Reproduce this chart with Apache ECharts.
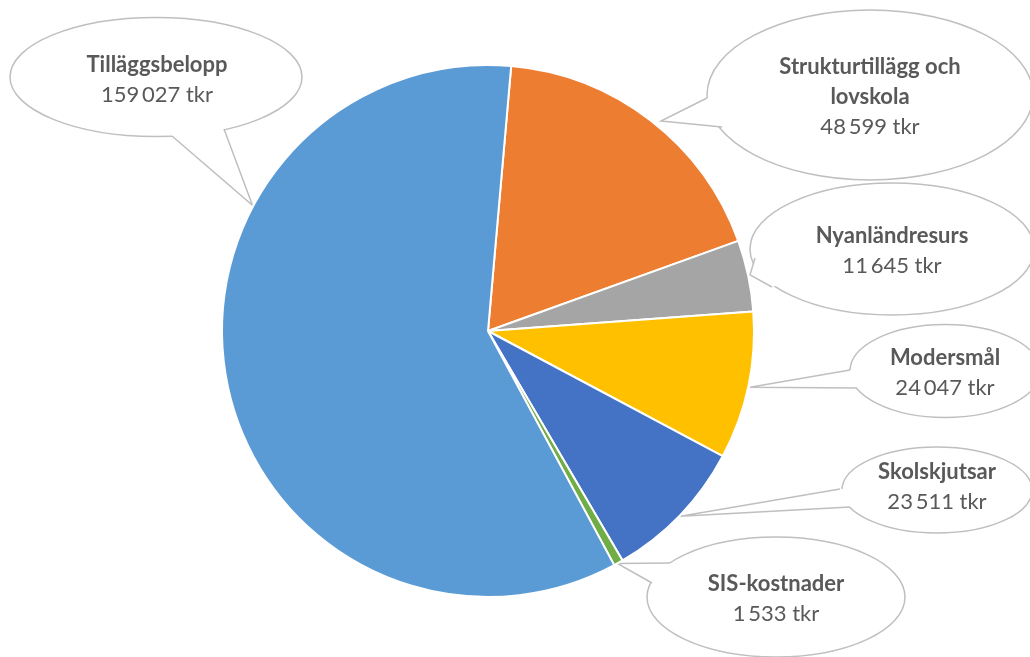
<!DOCTYPE html>
<html>
<head>
<meta charset="utf-8">
<script src="https://cdn.jsdelivr.net/npm/echarts@6/dist/echarts.min.js"></script>
<style>
html,body{margin:0;padding:0;background:#fff;}
#chart{width:1030px;height:657px;}
</style>
</head>
<body>
<div id="chart"></div>
<script>
// ---- data ----
const categories = ['Strukturtillägg och lovskola', 'Nyanländresurs', 'Modersmål', 'Skolskjutsar', 'SIS-kostnader', 'Tilläggsbelopp'];
const values = [48599, 11645, 24047, 23511, 1533, 159027];
const unit = 'tkr';

// ---- layout / style (not data) ----
const colors = ['#ED7D31', '#A5A5A5', '#FFC000', '#4472C4', '#70AD47', '#5B9BD5'];
const pieCenter = [488, 331];
const pieRadius = 266;
// callout bubbles: ellipse centre/size, text centre, wedge base points, tip angle (deg, math) and tip radius offset
const bubbles = [
  {cx: 870, cy: 95, w: 326, h: 170, tx: 870, ty: 97, b1: [707, 98], b2: [722, 127], ang: 50.5, dr: 6},
  {cx: 892, cy: 249, w: 284, h: 132, tx: 892, ty: 251, b1: [755, 258], b2: [772, 287], ang: 12.1, dr: 2},
  {cx: 945, cy: 371, w: 190, h: 93, tx: 945, ty: 373, b1: [850, 370], b2: [857, 388], ang: -12.1, dr: 2},
  {cx: 937, cy: 490, w: 190, h: 86, tx: 937, ty: 487, b1: [840, 489], b2: [850, 507], ang: -43.9, dr: 1},
  {cx: 776, cy: 597, w: 258, h: 120, tx: 776, ty: 599, b1: [670, 563], b2: [652, 583], ang: -60.9, dr: 0},
  {cx: 156, cy: 77, w: 292, h: 119, tx: 157, ty: 80, b1: [172, 136], b2: [224, 129], ang: 151.9, dr: 1}
];

function fmt(v) { return String(v).replace(/\B(?=(\d{3})+(?!\d))/g, '\u2009'); }
function wrapTitle(s) { return s.length > 20 ? s.replace(/ (\S+)$/, '\n$1') : s; }

const graphics = [];
bubbles.forEach(function (b) {
  const a = b.ang * Math.PI / 180;
  const r = pieRadius + b.dr;
  const tip = [pieCenter[0] + r * Math.cos(a), pieCenter[1] - r * Math.sin(a)];
  function inward(p) {
    const dx = b.cx - p[0], dy = b.cy - p[1];
    const d = Math.sqrt(dx * dx + dy * dy);
    return [p[0] + dx / d * 5, p[1] + dy / d * 5];
  }
  graphics.push({
    type: 'ellipse', z: 0,
    shape: {cx: b.cx, cy: b.cy, rx: b.w / 2, ry: b.h / 2},
    style: {fill: '#fff', stroke: '#BFBFBF', lineWidth: 1.5}
  });
  graphics.push({
    type: 'polygon', z: 1,
    shape: {points: [inward(b.b1), b.b1, tip, b.b2, inward(b.b2)]},
    style: {fill: '#fff', stroke: null}
  });
  graphics.push({
    type: 'polyline', z: 1,
    shape: {points: [b.b1, tip, b.b2]},
    style: {fill: null, stroke: '#BFBFBF', lineWidth: 1.5}
  });
});

const chart = echarts.init(document.getElementById('chart'));
chart.setOption({
  animation: false,
  backgroundColor: '#fff',
  color: colors,
  graphic: graphics,
  series: [{
    type: 'pie',
    z: 5,
    center: pieCenter,
    radius: pieRadius,
    startAngle: 85,
    clockwise: true,
    avoidLabelOverlap: false,
    itemStyle: {borderColor: '#fff', borderWidth: 2},
    emphasis: {disabled: true},
    data: categories.map(function (c, i) { return {name: c, value: values[i]}; }),
    labelLine: {show: false},
    label: {
      show: true,
      position: 'outside',
      align: 'center',
      fontFamily: 'Lato',
      formatter: function (p) {
        return '{b|' + wrapTitle(p.name).split('\n').join('}\n{b|') + '}\n{v|' + fmt(p.value) + ' ' + unit + '}';
      },
      rich: {
        b: {fontFamily: 'Lato', fontWeight: 'bold', fontSize: 22, color: '#595959', lineHeight: 30, align: 'center'},
        v: {fontFamily: 'Lato', fontSize: 22, color: '#595959', lineHeight: 30, align: 'center'}
      }
    },
    labelLayout: function (params) {
      const b = bubbles[params.dataIndex];
      return {x: b.tx, y: b.ty, align: 'center', verticalAlign: 'middle'};
    }
  }]
});
</script>
</body>
</html>
